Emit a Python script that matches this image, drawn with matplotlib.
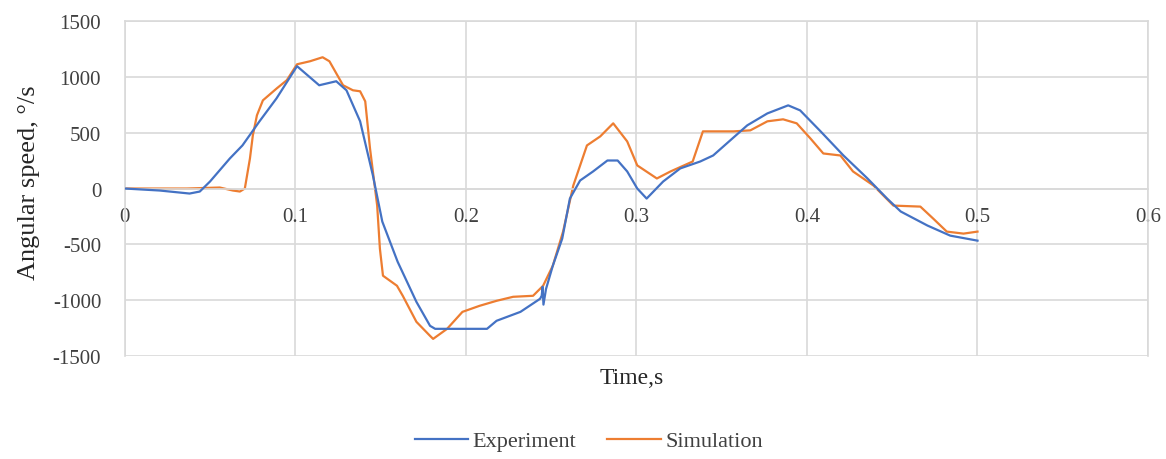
import matplotlib
matplotlib.use('Agg')
import matplotlib.pyplot as plt
import numpy as np

plt.rcParams['font.family'] = ['Liberation Serif', 'DejaVu Serif']
plt.rcParams['axes.unicode_minus'] = False

# Experiment: time (s) and angular speed (deg/s)
exp_t = [0.0, 0.0205, 0.038, 0.044, 0.050, 0.0616, 0.069, 0.079, 0.089, 0.101,
         0.114, 0.124, 0.130, 0.138, 0.1455, 0.151, 0.160, 0.171, 0.179, 0.182,
         0.2124, 0.218, 0.232, 0.2435, 0.2445, 0.245, 0.2455, 0.247, 0.251, 0.2565,
         0.261, 0.267, 0.2746, 0.283, 0.289, 0.2946, 0.3005, 0.306, 0.3157, 0.3257,
         0.3374, 0.345, 0.365, 0.3768, 0.389, 0.396, 0.408, 0.4214, 0.4355, 0.447,
         0.455, 0.4707, 0.484, 0.500]
exp_v = [0, -18, -45, -27, 63, 269, 386, 602, 808, 1096,
         925, 961, 880, 602, 117, -296, -656, -1015, -1230, -1257,
         -1257, -1185, -1105, -988, -960, -880, -1040, -900, -691, -449,
         -90, 72, 153, 251, 251, 153, 0, -90, 63, 180,
         242, 296, 566, 673, 745, 700, 512, 296, 90, -90,
         -206, -332, -422, -467]

# Simulation: time (s) and angular speed (deg/s)
sim_t = [0.0, 0.0364, 0.0557, 0.0634, 0.0675, 0.0704, 0.0734, 0.0751, 0.0775, 0.081,
         0.0892, 0.095, 0.101, 0.1086, 0.116, 0.120, 0.128, 0.1338, 0.138, 0.141,
         0.1438, 0.148, 0.1496, 0.1514, 0.1596, 0.163, 0.171, 0.179, 0.1808, 0.189,
         0.198, 0.208, 0.218, 0.2277, 0.2394, 0.2453, 0.251, 0.257, 0.263, 0.271,
         0.2788, 0.2864, 0.2946, 0.3005, 0.312, 0.320, 0.333, 0.339, 0.357, 0.3668,
         0.3768, 0.386, 0.394, 0.402, 0.4096, 0.4196, 0.427, 0.439, 0.4507, 0.4665,
         0.474, 0.482, 0.4918, 0.500]
sim_v = [0, 0, 9, -18, -27, 0, 269, 476, 656, 790,
         898, 970, 1113, 1140, 1176, 1140, 925, 880, 871, 781,
         359, -153, -539, -781, -871, -961, -1194, -1320, -1347, -1257,
         -1105, -1051, -1006, -970, -961, -871, -691, -386, 27, 386,
         467, 584, 422, 207, 90, 153, 242, 512, 512, 521,
         602, 620, 584, 449, 314, 296, 153, 27, -153, -162,
         -269, -386, -404, -386]

x_ticks = [0, 0.1, 0.2, 0.3, 0.4, 0.5, 0.6]
x_tick_labels = ['0', '0.1', '0.2', '0.3', '0.4', '0.5', '0.6']
y_ticks = [-1500, -1000, -500, 0, 500, 1000, 1500]

grid_color = '#d9d9d9'
text_color = '#404040'

fig = plt.figure(figsize=(11.66, 4.6), dpi=100)
ax = fig.add_axes([0.107, 0.224, 0.8776, 0.728])

ax.plot(exp_t, exp_v, color='#4472C4', lw=1.6, label='Experiment', zorder=3)
ax.plot(sim_t, sim_v, color='#ED7D31', lw=1.6, label='Simulation', zorder=2)

ax.set_xlim(0, 0.6)
ax.set_ylim(-1500, 1500)
ax.set_yticks(y_ticks)
ax.set_yticklabels([str(v) for v in y_ticks])
ax.set_xticks(x_ticks)
ax.set_xticklabels(x_tick_labels)
ax.grid(True, color=grid_color, lw=1.2, zorder=0)
ax.set_axisbelow(True)

# x axis crosses at zero, labels just under the zero line
ax.spines['bottom'].set_position(('data', 0))
for side in ['top', 'right', 'bottom', 'left']:
    ax.spines[side].set_color(grid_color)
    ax.spines[side].set_linewidth(1.2)
ax.tick_params(axis='both', length=0, labelsize=15, colors=text_color)
ax.tick_params(axis='x', pad=13)
ax.tick_params(axis='y', pad=17)

ax.set_ylabel('Angular speed, °/s', fontsize=19, color='#262626')
ax.yaxis.set_label_coords(-0.083, 0.52)
fig.text(0.542, 0.178, 'Time,s', fontsize=17, color='#262626', ha='center', va='center')

fig.legend(loc='center', bbox_to_anchor=(0.505, 0.039), ncol=2, frameon=False,
           fontsize=16, handlelength=2.4, columnspacing=1.4, handletextpad=0.2,
           labelcolor=text_color)

fig.savefig('out.png', dpi=100, facecolor='white')
